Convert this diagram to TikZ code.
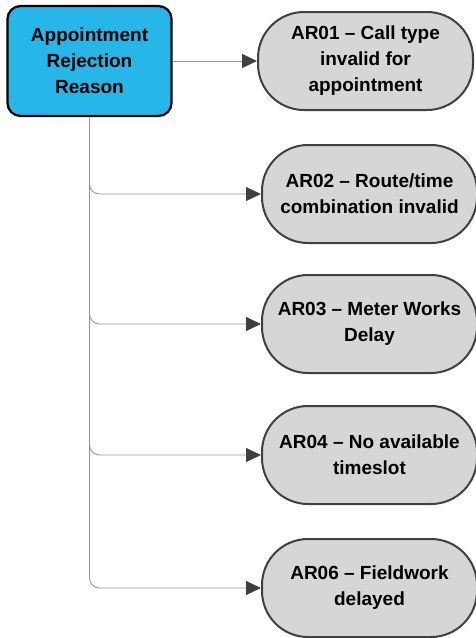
\documentclass[tikz,border=0pt]{standalone}
\usepackage{fontspec}
\setmainfont{Liberation Sans}
\usetikzlibrary{arrows.meta}
\definecolor{rootfill}{RGB}{38,182,232}
\definecolor{leaffill}{RGB}{214,214,214}
\definecolor{leafdraw}{RGB}{64,64,64}
\definecolor{linkcol}{RGB}{150,150,150}
\definecolor{tipcol}{RGB}{64,64,64}
\tikzset{
  rootbox/.style={draw=black, line width=2.2pt, fill=rootfill, rounded corners=13pt,
    minimum width=164pt, minimum height=110pt, align=center, inner sep=0pt,
    font=\fontsize{19}{26}\selectfont\bfseries},
  leafbox/.style={draw=leafdraw, line width=2pt, fill=leaffill, rounded corners=46pt,
    minimum width=215pt, minimum height=98pt, align=center, inner sep=0pt,
    font=\fontsize{19}{26}\selectfont\bfseries},
  link/.style={draw=linkcol, line width=0.9pt, rounded corners=10pt,
    -{Triangle[length=15pt,width=14pt,fill=tipcol,color=tipcol]}},
}
\begin{document}
\begin{tikzpicture}[x=1pt,y=-1pt]
\useasboundingbox (0,0) rectangle (475,638);
\node[rootbox] (root) at (89.5,61) {Appointment\\Rejection\\Reason};
\node[leafbox] (ar01) at (365.5,61) {AR01 – Call type\\invalid for\\appointment};
\node[leafbox] (ar02) at (369.5,194) {AR02 – Route/time\\combination invalid};
\node[leafbox] (ar03) at (369.5,324) {AR03 – Meter Works\\Delay};
\node[leafbox] (ar04) at (369.5,455) {AR04 – No available\\timeslot};
\node[leafbox] (ar06) at (369.5,588) {AR06 – Fieldwork\\delayed};
\draw[link] (root.east) -- (ar01.west);
\foreach \n in {ar02,ar03,ar04,ar06}
  \draw[link] (root.south) |- (\n.west);
\end{tikzpicture}
\end{document}
